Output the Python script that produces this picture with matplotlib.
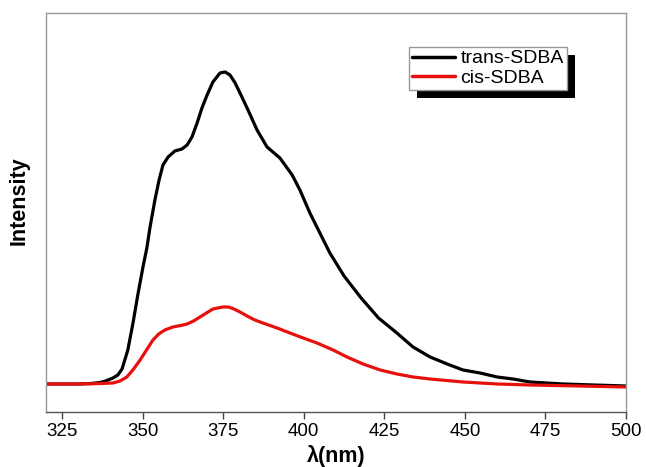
import numpy as np
import matplotlib
matplotlib.use("Agg")
import matplotlib.pyplot as plt
from matplotlib.patches import Rectangle

plt.rcParams['font.family'] = ['Liberation Sans', 'DejaVu Sans']

# wavelengths (nm) and intensities (arbitrary units)
wl_trans = [320, 330, 334, 336.8, 338.5, 340.8, 342.3, 343.6, 345.4, 347.0, 348.6,
            350.1, 351.3, 352.3, 353.8, 355.1, 356.3, 357.9, 360.0, 362.2, 363.8,
            365.3, 366.9, 368.4, 370.0, 371.8, 374.0, 375.6, 377.1, 378.7, 380.8,
            382.7, 385.5, 388.6, 392.6, 396.4, 398.8, 401.9, 405.0, 408.1, 412.5,
            417.8, 423.2, 428.9, 433.9, 439.2, 444.5, 449.4, 454.7, 460.0, 464.9,
            470.2, 480.5, 490, 500]
int_trans = [0, 0, 0.5, 1.5, 3, 6, 9, 15, 34, 61, 91,
             117, 136, 157, 184, 204, 219, 227, 233, 235, 239,
             247, 261, 276, 289, 302, 311, 312, 309, 301, 287,
             274, 254, 237, 226, 209, 194, 171, 151, 131, 108,
             86, 66, 51, 37, 27, 20, 14, 11, 7, 5,
             2, 0, -1, -2]

wl_cis = [320, 330, 335, 338, 340.8, 343.0, 345.1, 347.2, 349.2, 351.2, 353.2,
          355.0, 356.9, 359.4, 361.8, 363.8, 365.8, 367.8, 369.8, 371.8, 374.9,
          376.5, 378.0, 380.2, 382.4, 384.8, 387.3, 391.7, 395.7, 399.8, 404.1,
          409.1, 413.4, 418.4, 423.7, 428.9, 433.9, 439.2, 449.4, 460.0, 470.2,
          485, 500]
int_cis = [0, 0, 0.3, 0.6, 1, 3, 7, 15, 24, 34, 44,
           50, 54, 57, 58.5, 60, 63, 67, 71, 75, 77,
           77, 75.5, 72, 68, 64, 61, 56, 51, 46, 41,
           34, 27, 20, 14, 10, 7, 5, 2, 0, -1,
           -2, -3]

fig = plt.figure(figsize=(6.46, 4.67), dpi=100)
ax = fig.add_axes([0.0712, 0.1178, 0.8978, 0.8544])

ax.plot(wl_trans, int_trans, color='black', lw=2.3, label='trans-SDBA',
        solid_joinstyle='round', solid_capstyle='round')
ax.plot(wl_cis, int_cis, color='#e8100c', lw=2.3, label='cis-SDBA',
        solid_joinstyle='round', solid_capstyle='round')

ax.set_xlim(320, 500)
ax.set_ylim(-28, 371)
ax.set_xticks([325, 350, 375, 400, 425, 450, 475, 500])
ax.set_yticks([])
ax.tick_params(axis='x', direction='out', length=5, width=1, color='#444444',
               labelsize=13.5, pad=3)
for s in ax.spines.values():
    s.set_color('#999999')
    s.set_linewidth(1.0)
ax.spines['bottom'].set_color('#555555')

ax.set_xlabel('λ(nm)', fontsize=15.5, fontweight='bold', labelpad=3.5)
ax.set_ylabel('Intensity', fontsize=15.5, fontweight='bold')
ax.yaxis.set_label_coords(-0.029, 0.53)

leg = ax.legend(loc='upper left', bbox_to_anchor=(0.626, 0.915), borderaxespad=0,
                fancybox=False, frameon=True, edgecolor='#999999', framealpha=1,
                fontsize=14, handlelength=2.2, handletextpad=0.3,
                borderpad=0.15, labelspacing=0.08)
for h in leg.get_lines():
    h.set_linewidth(2.5)
leg.get_frame().set_linewidth(1.0)
leg.set_zorder(6)

# heavy offset shadow behind the legend box
fig.canvas.draw()
bb = leg.get_window_extent()
inv = fig.transFigure.inverted()
(x0, y0), (x1, y1) = inv.transform([(bb.x0 + 8, bb.y0 - 8), (bb.x1 + 8, bb.y1 - 8)])
ax.add_patch(Rectangle((x0, y0), x1 - x0, y1 - y0, transform=fig.transFigure,
                       facecolor='black', edgecolor='none', zorder=5, clip_on=False))

fig.savefig('out.png', dpi=100)
